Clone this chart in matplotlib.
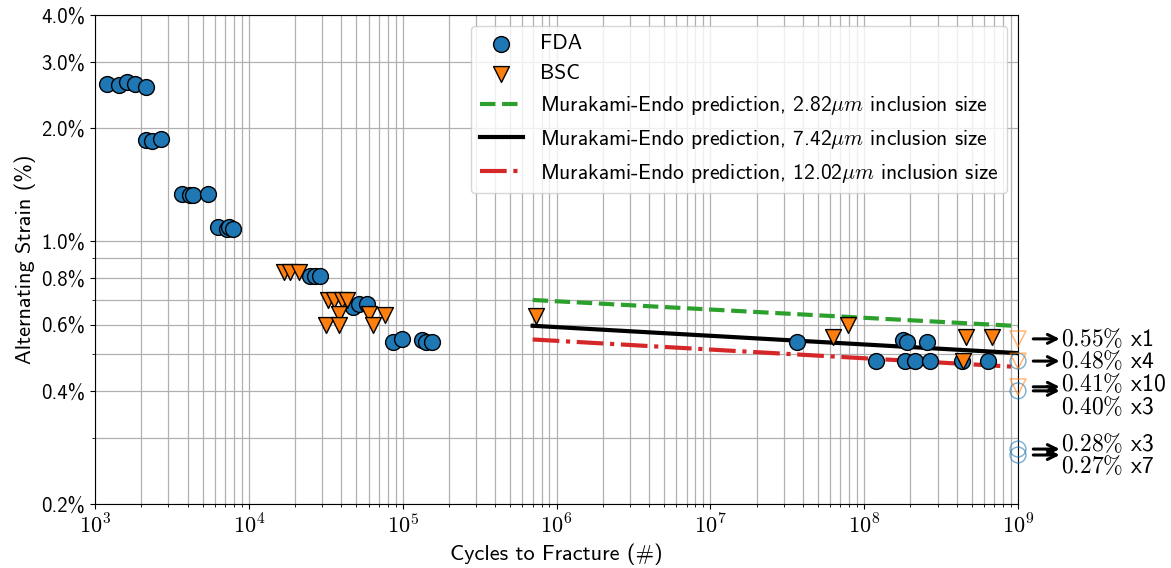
import numpy as np
import matplotlib
matplotlib.use("Agg")
import matplotlib.pyplot as plt

plt.rcParams['font.family'] = ['cmss10', 'DejaVu Sans']
plt.rcParams['mathtext.fontset'] = 'cm'
plt.rcParams['axes.formatter.use_mathtext'] = True

# - DATA - #
fda_n = [1200, 1430, 1610, 1820, 2150,
         2150, 2350, 2680,
         3660, 4150, 4330, 5450,
         6330, 7180, 7430, 7930,
         25000, 26900, 29000,
         47300, 52000, 58400,
         87000, 98600, 133000, 141000, 155000,
         3.68e7, 1.78e8, 1.89e8, 2.55e8,
         1.19e8, 1.85e8, 2.14e8, 2.66e8, 4.3e8, 6.43e8]
fda_strain = [2.62, 2.60, 2.65, 2.62, 2.57,
              1.86, 1.85, 1.87,
              1.34, 1.33, 1.33, 1.34,
              1.09, 1.08, 1.09, 1.08,
              0.81, 0.81, 0.81,
              0.67, 0.68, 0.68,
              0.54, 0.55, 0.545, 0.54, 0.54,
              0.54, 0.545, 0.54, 0.54,
              0.48, 0.48, 0.48, 0.48, 0.48, 0.48]

bsc_n = [16900, 18500, 21200,
         32900, 35800, 40200, 43700,
         38500, 31900, 38500, 60700, 64500, 76800,
         7.36e5, 6.3e7, 7.9e7, 4.58e8, 6.76e8, 4.37e8]
bsc_strain = [0.83, 0.83, 0.83,
              0.70, 0.70, 0.70, 0.70,
              0.64, 0.60, 0.60, 0.64, 0.60, 0.637,
              0.633, 0.556, 0.60, 0.556, 0.556, 0.48]

# run-outs at 1e9 cycles
runout_n = 1e9
runout_bsc = [0.55, 0.48, 0.41]
runout_fda = [0.48, 0.40, 0.28, 0.27]
runout_labels = ['0.55', '0.48', '0.41', '0.40', '0.28', '0.27']
runout_counts = ['x1', 'x4', 'x10', 'x3', 'x3', 'x7']
runout_label_strain = [0.55, 0.48, 0.41, 0.40, 0.28, 0.27]

# Murakami-Endo predictions
pred_n = [7e5, 1e9]
pred_282 = [0.698, 0.595]
pred_742 = [0.596, 0.504]
pred_1202 = [0.548, 0.463]

yticks = [0.2, 0.4, 0.6, 0.8, 1.0, 2.0, 3.0, 4.0]
yminor = [0.3, 0.5, 0.7, 0.9]
xticks = [1e3, 1e4, 1e5, 1e6, 1e7, 1e8, 1e9]

# - PLOTTING - #
fig = plt.figure(figsize=(11.71, 5.68), dpi=100)
ax = fig.add_axes([95/1171, 64/568, 923/1171, 489/568])

ax.scatter(fda_n, fda_strain, s=130, c='#1f77b4', edgecolors='k', linewidths=1, zorder=3, label='FDA')
ax.scatter(bsc_n, bsc_strain, s=130, marker='v', c='#ff7f0e', edgecolors='k', linewidths=1, zorder=3, label='BSC')

ax.scatter([runout_n]*len(runout_fda), runout_fda, s=130, facecolors='none', edgecolors='#1f77b4',
           linewidths=1, alpha=0.6, zorder=3, clip_on=False)
ax.scatter([runout_n]*len(runout_bsc), runout_bsc, s=130, marker='v', facecolors='none', edgecolors='#ff7f0e',
           linewidths=1, alpha=0.6, zorder=3, clip_on=False)

ax.plot(pred_n, pred_282, '--', color='#2ca02c', lw=3, label=r'Murakami-Endo prediction, 2.82$\mu m$ inclusion size')
ax.plot(pred_n, pred_742, '-', color='k', lw=3, label=r'Murakami-Endo prediction, 7.42$\mu m$ inclusion size')
ax.plot(pred_n, pred_1202, '-.', color='#d62728', lw=3, label=r'Murakami-Endo prediction, 12.02$\mu m$ inclusion size')

# run-out annotations
text_dy = [0, 0, 1.5, -12, 3.5, -8]
for lab, cnt, val, dy in zip(runout_labels, runout_counts, runout_label_strain, text_dy):
    ax.annotate('', xy=(runout_n, val), xytext=(30, 0), textcoords='offset points',
                arrowprops=dict(arrowstyle='<-', lw=2.2, color='k', shrinkA=0, shrinkB=11,
                                mutation_scale=16),
                annotation_clip=False)
    ax.annotate(r'$' + lab + r'\%$ ' + cnt, xy=(runout_n, val), xytext=(31, dy),
                textcoords='offset points', va='center', ha='left', fontsize=17,
                annotation_clip=False)

ax.set_xscale('log')
ax.set_yscale('log')
ax.set_xlim(1e3, 1e9)
ax.set_ylim(0.2, 4.0)
ax.set_xticks(xticks)
ax.set_xticklabels([r'$10^{%d}$' % int(np.log10(t)) for t in xticks], fontsize=16)
ax.set_yticks(yticks)
ax.set_yticklabels(['%.1f%%' % t for t in yticks], fontsize=15)
ax.set_yticks(yminor, minor=True)
ax.yaxis.set_minor_formatter(matplotlib.ticker.NullFormatter())
ax.grid(True, which='both', color='#b0b0b0', lw=0.9)
ax.set_axisbelow(True)

ax.set_xlabel('Cycles to Fracture (#)', fontsize=16)
ax.set_ylabel('Alternating Strain (%)', fontsize=16)

ax.legend(loc='upper right', fontsize=15.5, labelspacing=0.5, framealpha=0.8)

plt.savefig('out.png', dpi=100)
